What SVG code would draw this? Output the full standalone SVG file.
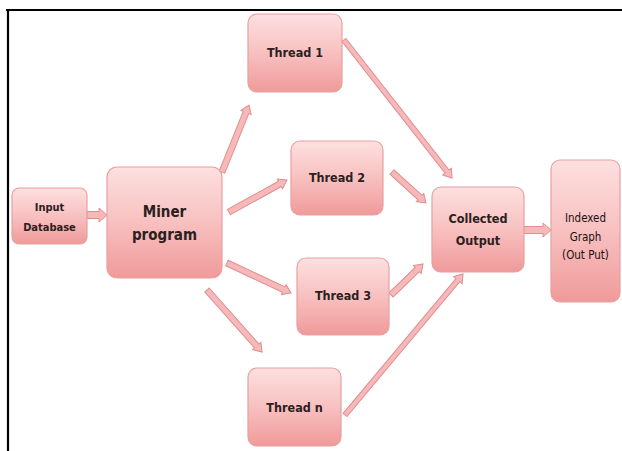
<svg xmlns="http://www.w3.org/2000/svg" width="622" height="451" viewBox="0 0 622 451">
<defs>
<linearGradient id="g" x1="0" y1="0" x2="0" y2="1">
<stop offset="0" stop-color="#fde0e0"/>
<stop offset="0.5" stop-color="#f8c0c0"/>
<stop offset="1" stop-color="#f09a9a"/>
</linearGradient>
<style>
.box{fill:url(#g);stroke:#e8a0a0;stroke-width:1.2}
.t{font-family:"DejaVu Sans Condensed","Liberation Sans",sans-serif;font-weight:bold;fill:#2a2020;text-anchor:middle}
.n{font-weight:normal;fill:#1a1010}
.arr{fill:#f6b8b8;stroke:#e08e8e;stroke-width:1}
</style>
</defs>
<rect width="622" height="451" fill="#fff"/>
<line x1="6" y1="10" x2="622" y2="10" stroke="#000" stroke-width="2.2"/>
<line x1="8" y1="9" x2="8" y2="451" stroke="#000" stroke-width="2.2"/>

<g id="connectors">
<path class="arr" transform="translate(87,215)" d="M0,-3.5 L12,-3.5 L12,-7 L20,0 L12,7 L12,3.5 L0,3.5 Z"/>
<path class="arr" transform="translate(222,172) rotate(-68.05)" d="M0,-3 L64.2,-3 L64.2,-5.5 L72.2,0 L64.2,5.5 L64.2,3 L0,3 Z"/>
<path class="arr" transform="translate(229,212) rotate(-28.9)" d="M0,-3 L58.2,-3 L58.2,-5.5 L66.2,0 L58.2,5.5 L58.2,3 L0,3 Z"/>
<path class="arr" transform="translate(227,263) rotate(25.1)" d="M0,-3 L62.7,-3 L62.7,-5.5 L70.7,0 L62.7,5.5 L62.7,3 L0,3 Z"/>
<path class="arr" transform="translate(207,290) rotate(48.4)" d="M0,-3 L74.9,-3 L74.9,-5.5 L82.9,0 L74.9,5.5 L74.9,3 L0,3 Z"/>
<path class="arr" transform="translate(344,40) rotate(51.95)" d="M0,-2.5 L167.2,-2.5 L167.2,-5.5 L175.2,0 L167.2,5.5 L167.2,2.5 L0,2.5 Z"/>
<path class="arr" transform="translate(392,172) rotate(42.4)" d="M0,-3 L38,-3 L38,-5.5 L46,0 L38,5.5 L38,3 L0,3 Z"/>
<path class="arr" transform="translate(391,295) rotate(-44.1)" d="M0,-3 L36.6,-3 L36.6,-5.5 L44.6,0 L36.6,5.5 L36.6,3 L0,3 Z"/>
<path class="arr" transform="translate(345,415) rotate(-50.07)" d="M0,-2.5 L175.9,-2.5 L175.9,-5.5 L183.9,0 L175.9,5.5 L175.9,2.5 L0,2.5 Z"/>
<path class="arr" transform="translate(524,230)" d="M0,-3.5 L19,-3.5 L19,-7 L27,0 L19,7 L19,3.5 L0,3.5 Z"/>
</g>

<g id="input">
<rect class="box" x="12" y="188" width="75" height="56" rx="7"/>
<text class="t" x="49.5" y="211" font-size="11">Input</text>
<text class="t" x="49.5" y="231" font-size="11">Database</text>
</g>
<g id="miner">
<rect class="box" x="107" y="167" width="115" height="111" rx="10"/>
<text class="t" x="164.5" y="217" font-size="15">Miner</text>
<text class="t" x="164.5" y="240" font-size="15">program</text>
</g>
<g id="thread1">
<rect class="box" x="248" y="14" width="94" height="78" rx="9"/>
<text class="t" x="295" y="57" font-size="12.5">Thread 1</text>
</g>
<g id="thread2">
<rect class="box" x="291" y="141" width="92" height="74" rx="9"/>
<text class="t" x="337" y="182" font-size="12.5">Thread 2</text>
</g>
<g id="thread3">
<rect class="box" x="297" y="258" width="92" height="77" rx="9"/>
<text class="t" x="343" y="300" font-size="12.5">Thread 3</text>
</g>
<g id="threadn">
<rect class="box" x="248" y="368" width="93" height="78" rx="9"/>
<text class="t" x="294.5" y="412" font-size="12.5">Thread n</text>
</g>
<g id="collected">
<rect class="box" x="432" y="187" width="92" height="85" rx="9"/>
<text class="t" x="478" y="223" font-size="12.5">Collected</text>
<text class="t" x="478" y="245" font-size="12.5">Output</text>
</g>
<g id="indexed">
<rect class="box" x="551" y="160" width="69" height="142" rx="9"/>
<text class="t n" x="585.5" y="222" font-size="11.5">Indexed</text>
<text class="t n" x="585.5" y="241" font-size="11.5">Graph</text>
<text class="t n" x="585.5" y="259" font-size="11.5">(Out Put)</text>
</g>
</svg>
